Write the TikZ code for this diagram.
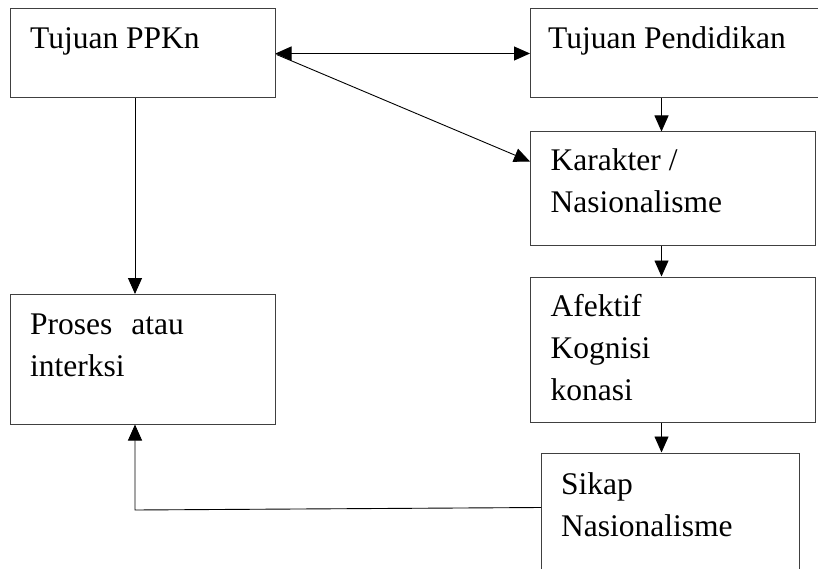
\documentclass[tikz,border=0pt]{standalone}
\usepackage{fontspec}
\setmainfont{Liberation Serif}
\usetikzlibrary{arrows.meta,calc}
\begin{document}
\begin{tikzpicture}[x=1pt,y=-1pt,
  box/.style={draw=black!75,line width=1pt,rectangle,inner sep=0pt,anchor=center},
  lbl/.style={anchor=base west,inner sep=0pt,font=\fontsize{31.5}{42}\selectfont},
  conn/.style={draw=black,line width=0.9pt},
  arr/.style={conn,-{Triangle[length=16pt,width=14pt]}},
  arrtwo/.style={conn,{Triangle[length=16pt,width=14pt]}-{Triangle[length=16pt,width=14pt]}}]
\useasboundingbox (0,0) rectangle (818,569);
\clip (0,0) rectangle (818,569);
\fill[white] (0,0) rectangle (818,569);
% boxes
\node[box,minimum width=265pt,minimum height=89pt] (ppkn) at (142.5,53.5) {};
\node[box,minimum width=299.5pt,minimum height=89pt] (pend) at (680.25,53.5) {};
\node[box,minimum width=284.5pt,minimum height=113pt] (kar) at (672.75,188.5) {};
\node[box,minimum width=284.5pt,minimum height=145pt] (afk) at (672.75,349.5) {};
\node[box,minimum width=257.5pt,minimum height=150pt] (sikap) at (670.25,528) {};
\node[box,minimum width=265pt,minimum height=129.5pt] (proses) at (142.5,359.25) {};
% texts
\node[lbl] (t1) at (30,49) {Tujuan PPKn};
\node[lbl] (t2) at (548,49) {Tujuan Pendidikan};
\node[lbl] (t3a) at (550.5,171) {Karakter /};
\node[lbl] (t3b) at (550.5,213) {Nasionalisme};
\node[lbl] (t4a) at (550.5,316) {Afektif};
\node[lbl] (t4b) at (550.5,358) {Kognisi};
\node[lbl] (t4c) at (550.5,400) {konasi};
\node[lbl] (t5a) at (30,334) {Proses\hspace{0.6em}atau};
\node[lbl] (t5b) at (30,376.5) {interksi};
\node[lbl] (t6a) at (561,494) {Sikap};
\node[lbl] (t6b) at (561,536) {Nasionalisme};
% connector helpers
\coordinate (vx) at (661.5,0);
\coordinate (lx) at (135,0);
\coordinate (corner) at (135,510);
% connectors
\draw[arrtwo] (ppkn.east) -- (pend.west);
\draw[arr] ($(ppkn.east)+(1,1)$) -- ($(kar.north west)+(0,30)$);
\draw[arr] (pend.south -| vx) -- (kar.north -| vx);
\draw[arr] (kar.south -| vx) -- (afk.north -| vx);
\draw[arr] (afk.south -| vx) -- (sikap.north -| vx);
\draw[arr] (ppkn.south -| lx) -- (proses.north -| lx);
\draw[arr] ($(sikap.north west)+(0,55)$) -- (corner) -- (proses.south -| corner);
\end{tikzpicture}
\end{document}
